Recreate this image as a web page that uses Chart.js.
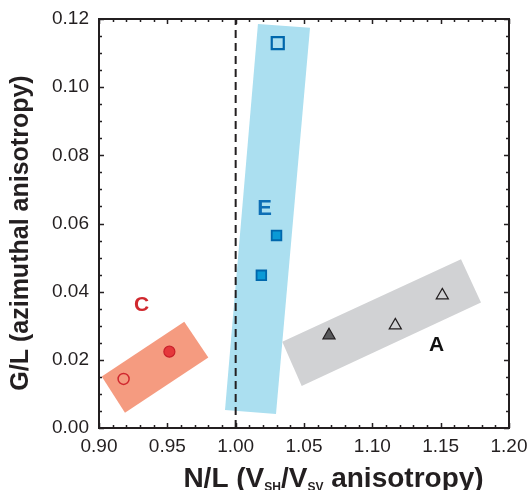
<!DOCTYPE html>
<html><head><meta charset="utf-8">
<script src="https://cdn.jsdelivr.net/npm/chart.js@4"></script>
<style>html,body{margin:0;padding:0;background:#fff}</style>
</head><body>
<canvas id="c" width="530" height="490"></canvas>
<script>
// ---- data ----
const xTicks = [0.90, 0.95, 1.00, 1.05, 1.10, 1.15, 1.20];
const yTicks = [0.00, 0.02, 0.04, 0.06, 0.08, 0.10, 0.12];
const xTitle = ['N/L (V', 'SH', '/V', 'SV', ' anisotropy)'];
const yTitle = 'G/L (azimuthal anisotropy)';

const groupC_open   = [{x: 0.918,  y: 0.0144}];
const groupC_filled = [{x: 0.9515, y: 0.0224}];
const groupE_open   = [{x: 1.0308, y: 0.1129}];
const groupE_filled = [{x: 1.0299, y: 0.0565}, {x: 1.0188, y: 0.0448}];
const groupA_filled = [{x: 1.0683, y: 0.0272}];
const groupA_open   = [{x: 1.1168, y: 0.0301}, {x: 1.1512, y: 0.0389}];

const boxE = [[1.0163, 0.1185], [1.0544, 0.1174], [1.0295, 0.0041], [0.9922, 0.0053]];
const boxC = [[0.9624, 0.0312], [0.980, 0.0207], [0.919, 0.0045], [0.902, 0.0151]];
const boxA = [[1.1649, 0.0495], [1.1795, 0.0368], [1.0483, 0.0123], [1.0341, 0.0253]];

const labels = [
  {text: 'C', x: 0.9311, y: 0.0364, color: '#d0282e', size: 21},
  {text: 'E', x: 1.0211, y: 0.0648, color: '#0d6eb5', size: 22},
  {text: 'A', x: 1.1471, y: 0.0247, color: '#111111', size: 21}
];
const refLine = [{x: 1.0, y: 0}, {x: 1.0, y: 0.12}];

const FONT = "'Liberation Sans', Arial, Helvetica, sans-serif";
const INK = '#231f20';

const boxesPlugin = {
  id: 'boxes',
  beforeDatasetsDraw(chart) {
    const {ctx, chartArea: a, scales: {x, y}} = chart;
    ctx.save();
    ctx.beginPath(); ctx.rect(a.left, a.top, a.right - a.left, a.bottom - a.top); ctx.clip();
    [[boxE, '#abdff0'], [boxC, '#f59b80'], [boxA, '#d1d2d4']].forEach(([pts, col]) => {
      ctx.beginPath();
      pts.forEach((p, i) => {
        const px = x.getPixelForValue(p[0]), py = y.getPixelForValue(p[1]);
        i ? ctx.lineTo(px, py) : ctx.moveTo(px, py);
      });
      ctx.closePath();
      ctx.fillStyle = col; ctx.fill();
    });
    ctx.restore();
  },
  afterDatasetsDraw(chart) {
    const {ctx, chartArea: a, scales: {x, y}} = chart;
    ctx.save();
    labels.forEach(l => {
      ctx.font = `bold ${l.size}px ${FONT}`;
      ctx.fillStyle = l.color; ctx.textAlign = 'center'; ctx.textBaseline = 'alphabetic';
      ctx.fillText(l.text, x.getPixelForValue(l.x), y.getPixelForValue(l.y) + 0.358 * l.size);
    });
    ctx.strokeStyle = INK; ctx.lineWidth = 2;
    ctx.strokeRect(a.left, a.top, a.right - a.left, a.bottom - a.top);
    ctx.lineWidth = 1.5;
    ctx.beginPath();
    for (let i = 0; i < xTicks.length; i++) {
      const last = i === xTicks.length - 1;
      const n = last ? 1 : 5;
      for (let k = 0; k < n; k++) {
        const v = xTicks[i] + (last ? 0 : (xTicks[i + 1] - xTicks[i]) * k / 5);
        const px = Math.round(x.getPixelForValue(v)) + 0.5;
        const len = k === 0 ? 5 : 3;
        ctx.moveTo(px, a.bottom); ctx.lineTo(px, a.bottom - len);
        ctx.moveTo(px, a.top); ctx.lineTo(px, a.top + len);
      }
    }
    for (let i = 0; i < yTicks.length; i++) {
      const last = i === yTicks.length - 1;
      const n = last ? 1 : 4;
      for (let k = 0; k < n; k++) {
        const v = yTicks[i] + (last ? 0 : (yTicks[i + 1] - yTicks[i]) * k / 4);
        const py = Math.round(y.getPixelForValue(v)) + 0.5;
        const len = k === 0 ? 5 : 3;
        ctx.moveTo(a.left, py); ctx.lineTo(a.left + len, py);
        ctx.moveTo(a.right, py); ctx.lineTo(a.right - len, py);
      }
    }
    ctx.stroke();
    ctx.restore();
  },
  afterDraw(chart) {
    const {ctx} = chart;
    ctx.save();
    ctx.fillStyle = INK;
    const big = `bold 28px ${FONT}`, small = `bold 12px ${FONT}`;
    const parts = xTitle.map((t, i) => ({t, f: i % 2 ? small : big, sub: i % 2 === 1}));
    let w = 0;
    parts.forEach(p => { ctx.font = p.f; p.w = ctx.measureText(p.t).width; w += p.w; });
    let cx = 333.5 - w / 2;
    ctx.textAlign = 'left'; ctx.textBaseline = 'alphabetic';
    parts.forEach(p => { ctx.font = p.f; ctx.fillText(p.t, cx, p.sub ? 491 : 487); cx += p.w; });
    ctx.translate(28, 233);
    ctx.rotate(-Math.PI / 2);
    ctx.font = `bold 25px ${FONT}`;
    ctx.textAlign = 'center';
    ctx.fillText(yTitle, 0, 0);
    ctx.restore();
  }
};

new Chart(document.getElementById('c'), {
  type: 'scatter',
  data: {
    datasets: [
      {type: 'line', data: refLine, borderColor: INK, borderWidth: 2, borderDash: [8, 5],
       pointRadius: 0, fill: false, order: 10},
      {data: groupC_open, pointStyle: 'circle', pointRadius: 5.5, borderWidth: 1.5,
       borderColor: '#d0282e', backgroundColor: 'rgba(0,0,0,0)'},
      {data: groupC_filled, pointStyle: 'circle', pointRadius: 5.5, borderWidth: 1.2,
       borderColor: '#c8202a', backgroundColor: '#e5383b'},
      {data: groupE_open, pointStyle: 'rect', pointRadius: 8.5, borderWidth: 2.2,
       borderColor: '#0067ac', backgroundColor: 'rgba(0,0,0,0)'},
      {data: groupE_filled, pointStyle: 'rect', pointRadius: 6.8, borderWidth: 1.8,
       borderColor: '#0067ac', backgroundColor: '#0a9ad6'},
      {data: groupA_filled, pointStyle: 'triangle', pointRadius: 7, borderWidth: 1.2,
       borderColor: INK, backgroundColor: '#58595b'},
      {data: groupA_open, pointStyle: 'triangle', pointRadius: 7, borderWidth: 1.2,
       borderColor: INK, backgroundColor: 'rgba(0,0,0,0)'}
    ]
  },
  options: {
    responsive: false,
    devicePixelRatio: 1,
    animation: false,
    layout: {padding: {top: 19, right: 21, left: 0, bottom: 0}},
    plugins: {legend: {display: false}, tooltip: {enabled: false}},
    elements: {point: {hoverRadius: 0}},
    scales: {
      x: {
        type: 'linear', min: 0.9, max: 1.2,
        afterBuildTicks: s => { s.ticks = xTicks.map(v => ({value: v})); },
        afterFit: s => { s.height = 62; s.paddingLeft = 0; s.paddingRight = 0; },
        ticks: {callback: v => v.toFixed(2), color: INK, padding: 7,
                font: {family: FONT, size: 19}, maxRotation: 0, autoSkip: false},
        grid: {display: false, drawTicks: false},
        border: {display: false}
      },
      y: {
        type: 'linear', min: 0, max: 0.12,
        afterBuildTicks: s => { s.ticks = yTicks.map(v => ({value: v})); },
        afterFit: s => { s.width = 99; s.paddingTop = 0; s.paddingBottom = 0; },
        ticks: {callback: v => v.toFixed(2), color: INK, padding: 10,
                font: {family: FONT, size: 19}, autoSkip: false},
        grid: {display: false, drawTicks: false},
        border: {display: false}
      }
    }
  },
  plugins: [boxesPlugin]
});
</script>
</body></html>
